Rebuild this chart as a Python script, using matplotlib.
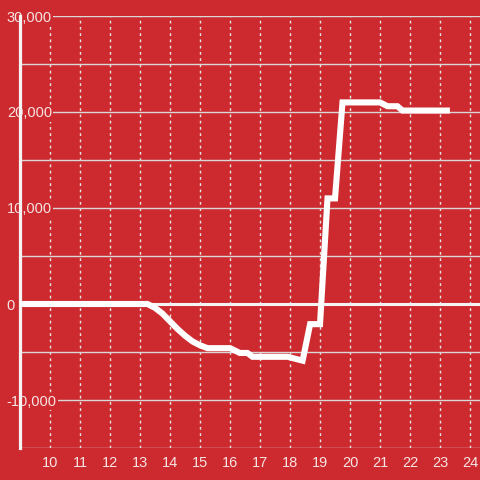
import matplotlib
matplotlib.use('Agg')
import matplotlib.pyplot as plt
from matplotlib.ticker import MultipleLocator, FuncFormatter

plt.rcParams['font.family'] = ['Liberation Sans', 'DejaVu Sans']

# hour of day vs value
hours = [9.0, 13.25, 13.5, 13.75, 14.0, 14.25, 14.5, 14.75, 15.0, 15.25, 16.0,
         16.33, 16.58, 16.75, 17.92, 18.42, 18.67, 19.0, 19.25, 19.5, 19.75,
         21.0, 21.25, 21.58, 21.75, 23.33]
values = [0, 0, -400, -1000, -1800, -2600, -3300, -3900, -4300, -4600, -4600,
          -5100, -5100, -5500, -5500, -5900, -2100, -2100, 11000, 11000, 21000,
          21000, 20600, 20600, 20150, 20150]

x_ticks = list(range(10, 25))
y_ticks = [-10000, 0, 10000, 20000, 30000]

bg = '#cd2a2f'
txt = '#f6e4e4'

fig = plt.figure(figsize=(4.8, 4.8), dpi=100, facecolor=bg)
ax = fig.add_axes([20 / 480, 32 / 480, 460 / 480, 432 / 480], facecolor=bg)

ax.set_xlim(9, 24.333)
ax.set_ylim(-15000, 30000)

ax.set_xticks(x_ticks)
ax.set_yticks(y_ticks)
ax.yaxis.set_minor_locator(MultipleLocator(5000))
ax.yaxis.set_major_formatter(FuncFormatter(lambda v, p: f'{int(v):,}'))

ax.grid(axis='y', which='both', color='#d8d8d8', linewidth=1.0, linestyle='-')
ax.grid(axis='x', which='major', color='#e4e4e4', linewidth=1.0, linestyle=(0, (2, 2.5)))
ax.set_axisbelow(True)

for s in ['top', 'right', 'bottom']:
  ax.spines[s].set_visible(False)
ax.spines['left'].set_color('#f4f4f4')
ax.spines['left'].set_linewidth(2.3)
ax.spines['left'].set_zorder(1.5)

ax.axhline(0, color='#f4f4f4', linewidth=2.2, zorder=2)
ax.plot(hours, values, color='white', linewidth=4.4, zorder=3,
        solid_joinstyle='miter', solid_capstyle='butt')

ax.tick_params(axis='both', which='both', length=0, colors=txt, labelsize=10.5)
ax.tick_params(axis='y', pad=9.5)
ax.tick_params(axis='x', pad=6)
for lab in ax.get_yticklabels():
  lab.set_horizontalalignment('left')
  lab.set_bbox(dict(facecolor=bg, edgecolor='none', pad=1.0))
  lab.set_zorder(5)

fig.savefig('out.png', dpi=100, facecolor=bg)
